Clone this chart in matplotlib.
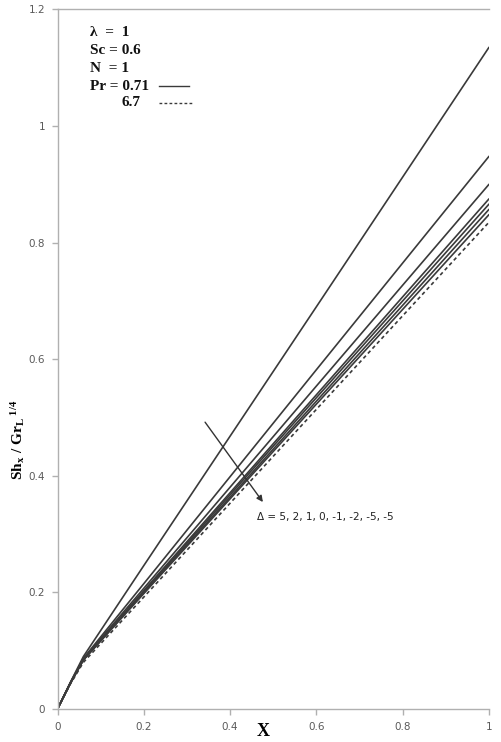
import matplotlib
matplotlib.use("Agg")
import matplotlib.pyplot as plt

# Local Sherwood number along the plate for several values of Delta
x = [0.0, 0.03, 0.06, 0.2, 0.6, 1.0]
sh_pr071 = {
    "5":  [0.0, 0.046, 0.090, 0.246, 0.690, 1.135],
    "2":  [0.0, 0.045, 0.087, 0.215, 0.582, 0.948],
    "1":  [0.0, 0.045, 0.086, 0.207, 0.554, 0.900],
    "0":  [0.0, 0.045, 0.085, 0.203, 0.539, 0.875],
    "-1": [0.0, 0.045, 0.085, 0.201, 0.534, 0.866],
    "-2": [0.0, 0.044, 0.084, 0.199, 0.528, 0.857],
    "-5": [0.0, 0.044, 0.084, 0.198, 0.523, 0.848],
}
sh_pr67_m5 = [0.0, 0.043, 0.080, 0.192, 0.514, 0.835]

xticks = [0, 0.2, 0.4, 0.6, 0.8, 1]
xticklabels = ["0", "0.2", "0.4", "0.6", "0.8", "1"]
yticks = [0, 0.2, 0.4, 0.6, 0.8, 1, 1.2]
yticklabels = ["0", "0.2", "0.4", "0.6", "0.8", "1", "1.2"]

serif = "Liberation Serif"
plt.rcParams["mathtext.fontset"] = "custom"
plt.rcParams["mathtext.rm"] = serif + ":bold"
plt.rcParams["mathtext.bf"] = serif + ":bold"
plt.rcParams["mathtext.it"] = serif + ":bold"

W, H = 501, 742
fig = plt.figure(figsize=(W / 100, H / 100), dpi=100)
ax = fig.add_axes([57.5 / W, 1 - 709 / H, (489 - 57.5) / W, (709 - 9.4) / H])

line_col = "#3a3a3a"
for key, ys in sh_pr071.items():
    ax.plot(x, ys, color=line_col, lw=1.2, solid_capstyle="round")
ax.plot(x, sh_pr67_m5, color=line_col, lw=1.2, ls=(0, (2.2, 1.8)))

ax.set_xlim(0, 1)
ax.set_ylim(0, 1.2)
ax.set_xticks(xticks)
ax.set_xticklabels(xticklabels)
ax.set_yticks(yticks)
ax.set_yticklabels(yticklabels)

spine_col = "#b0b0b0"
for s in ["left", "bottom", "top"]:
    ax.spines[s].set_color(spine_col)
    ax.spines[s].set_linewidth(1.0)
ax.spines["right"].set_visible(False)
ax.tick_params(axis="both", direction="out", length=4, width=1.0, color=spine_col,
               labelcolor="#5a5a5a", labelsize=7.5, pad=5)
for lab in ax.get_xticklabels() + ax.get_yticklabels():
    lab.set_family("DejaVu Sans")

ax.set_xlabel("X", family=serif, fontweight="bold", fontsize=13)
ax.xaxis.set_label_coords((263 - 57.5) / 431.5, -(732 - 709) / (709 - 9.4))
ax.xaxis.label.set_va("center")
ax.set_ylabel(r"$\mathrm{Sh_x\ /\ Gr_L}^{\ \mathrm{1/4}}$", fontsize=11)
ax.yaxis.set_label_coords(-(57.5 - 18) / 431.5, (709 - 440) / (709 - 9.4))
ax.yaxis.label.set_va("center")


def fx(px):
    return px / W


def fy(py):
    return 1 - py / H


params = [("λ  =  1", 90, 32), ("Sc = 0.6", 90, 50), ("N  = 1", 90, 68),
          ("Pr = 0.71", 90, 86), ("6.7", 122, 103)]
for txt, px, py in params:
    fig.text(fx(px), fy(py), txt, family=serif, fontweight="bold", fontsize=11,
             ha="left", va="center", color="#111111")
fig.add_artist(plt.Line2D([fx(159), fx(189)], [fy(86), fy(86)], color=line_col, lw=1.0))
fig.add_artist(plt.Line2D([fx(159), fx(193)], [fy(103), fy(103)], color=line_col, lw=1.0,
                          ls=(0, (2, 1.6))))

ax.annotate("", xy=(0.476, 0.355), xytext=(0.342, 0.492),
            arrowprops=dict(arrowstyle="-|>", color="#333333", lw=1.0,
                            mutation_scale=9, shrinkA=0, shrinkB=0))
ax.text(0.462, 0.329, "Δ = 5, 2, 1, 0, -1, -2, -5, -5", fontsize=7.5,
        family="DejaVu Sans", color="#222222", ha="left", va="center")

fig.savefig("out.png", dpi=100)
